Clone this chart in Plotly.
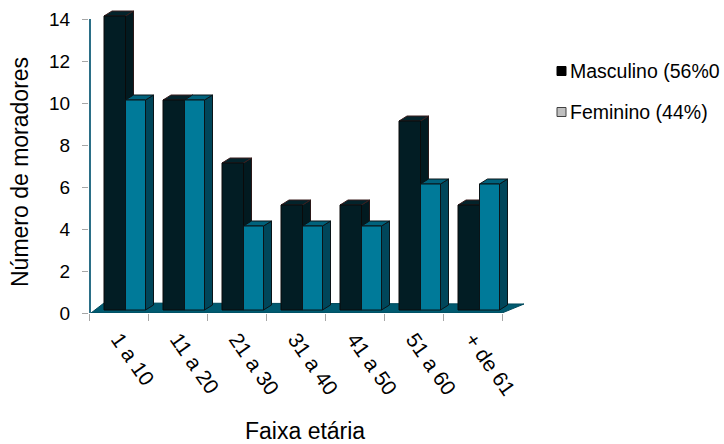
import plotly.graph_objects as go

# Residents by age group and sex
faixas = ["1 a 10", "11 a 20", "21 a 30", "31 a 40", "41 a 50", "51 a 60", "+ de 61"]
masculino = [14, 10, 7, 5, 5, 9, 5]
feminino = [10, 10, 4, 4, 4, 6, 6]
yticks = [0, 2, 4, 6, 8, 10, 12, 14]
legend_labels = ["Masculino (56%0", "Feminino (44%)"]

FONT = "Liberation Sans, Arial, sans-serif"

# Pixel scale of the plotting area (one category = PX_X px, one unit = PX_Y px)
PX_X = 59.0
PX_Y = 21.0
ML, MT, PW, PH = 89, 6, 448, 307


def ux(px):
    return px / PX_X


def uy(px):
    return px / PX_Y


# Pseudo-3D geometry (in pixels)
DEPTH_X, DEPTH_Y = 8, 5
BASE = uy(3)
MALE_L, MALE_R = -14.5, 7
FEM_L, FEM_R = 7, 27


def faces(values, left, right):
    """Return polygon coordinates for side, top and front faces of a bar series."""
    side_x, side_y, top_x, top_y, front_x, front_y = [], [], [], [], [], []
    dx, dy = ux(DEPTH_X), uy(DEPTH_Y)
    for i, v in enumerate(values):
        c = i + 0.5
        x0, x1 = c + ux(left), c + ux(right)
        yb, yt = BASE, v + BASE
        side_x += [x1, x1, x1 + dx, x1 + dx, x1, None]
        side_y += [yb, yt, yt + dy, yb + dy, yb, None]
        top_x += [x0, x0 + dx, x1 + dx, x1, x0, None]
        top_y += [yt, yt + dy, yt + dy, yt, yt, None]
        front_x += [x0, x0, x1, x1, x0, None]
        front_y += [yb, yt, yt, yb, yb, None]
    return (side_x, side_y), (top_x, top_y), (front_x, front_y)


def poly(xy, fill, edge, width=1):
    return go.Scatter(
        x=xy[0], y=xy[1], mode="lines", fill="toself", fillcolor=fill,
        line=dict(color=edge, width=width), hoverinfo="skip", showlegend=False,
    )


fig = go.Figure()

# Floor of the 3D chart
n = len(faixas)
floor_x = [ux(2), n, n + ux(22), ux(15), ux(2)]
floor_y = [0, 0, uy(9), uy(10), 0]
fig.add_trace(poly((floor_x, floor_y), "#005A70", "#004A5C"))

# Bars: male series first, female series in front of its side faces
m_side, m_top, m_front = faces(masculino, MALE_L, MALE_R)
f_side, f_top, f_front = faces(feminino, FEM_L, FEM_R)
fig.add_trace(poly(m_side, "#021A20", "#2a1818"))
fig.add_trace(poly(m_top, "#03232B", "#3a1e1e"))
fig.add_trace(poly(m_front, "#021D24", "#0a0a0a"))
fig.add_trace(poly(f_side, "#00465A", "#0a1418"))
fig.add_trace(poly(f_top, "#00627C", "#0a1418"))
fig.add_trace(poly(f_front, "#007A99", "#0a1418"))

# Vertical axis wall edge
fig.add_trace(go.Scatter(
    x=[ux(1), ux(1)], y=[0, max(yticks)], mode="lines",
    line=dict(color="#2B6F87", width=2), hoverinfo="skip", showlegend=False,
))

fig.update_layout(
    width=724, height=444,
    margin=dict(l=ML, r=724 - ML - PW, t=MT, b=444 - MT - PH),
    paper_bgcolor="white", plot_bgcolor="white",
    showlegend=False,
    font=dict(family=FONT, color="black"),
    xaxis=dict(
        range=[0, PW / PX_X], showgrid=False, zeroline=False, showline=False,
        tickmode="array", tickvals=[i + 0.5 for i in range(n)], ticktext=faixas,
        ticks="", tickangle=55, tickfont=dict(size=21, family=FONT),
        ticklabelstandoff=9,
        minor=dict(tickmode="array", tickvals=list(range(n + 1)), ticks="outside",
                   ticklen=7, tickcolor="#A6A6A6", tickwidth=1),
        fixedrange=True,
    ),
    yaxis=dict(
        range=[0, PH / PX_Y], showgrid=False, zeroline=False, showline=False,
        tickmode="array", tickvals=yticks, ticks="outside", ticklen=6,
        tickcolor="#A6A6A6", tickwidth=1, tickfont=dict(size=19, family=FONT),
        ticklabelstandoff=8, fixedrange=True,
    ),
)

# Axis titles
fig.add_annotation(
    text="Faixa etária", xref="paper", yref="paper",
    x=(305 - ML) / PW, y=-(431 - MT - PH) / PH, showarrow=False,
    font=dict(size=23, family=FONT), xanchor="center", yanchor="middle",
)
fig.add_annotation(
    text="Número de moradores", xref="paper", yref="paper",
    x=(20 - ML) / PW, y=1 - (172 - MT) / PH, showarrow=False, textangle=-90,
    font=dict(size=23, family=FONT), xanchor="center", yanchor="middle",
)

# Legend drawn as swatches with labels
legend_fills = ["#000000", "#BFBFBF"]
legend_edges = ["#000000", "#404040"]
for k, (lab, fc, ec) in enumerate(zip(legend_labels, legend_fills, legend_edges)):
    yc = 71 + 41 * k
    fig.add_shape(
        type="rect", xref="paper", yref="paper",
        x0=(557 - ML) / PW, x1=(566 - ML) / PW,
        y0=1 - (yc + 4.5 - MT) / PH, y1=1 - (yc - 4.5 - MT) / PH,
        fillcolor=fc, line=dict(color=ec, width=1),
    )
    fig.add_annotation(
        text=lab, xref="paper", yref="paper",
        x=(568 - ML) / PW, y=1 - (yc - MT) / PH, showarrow=False,
        font=dict(size=19.5, family=FONT), xanchor="left", yanchor="middle",
    )

fig.write_html("out.html")
